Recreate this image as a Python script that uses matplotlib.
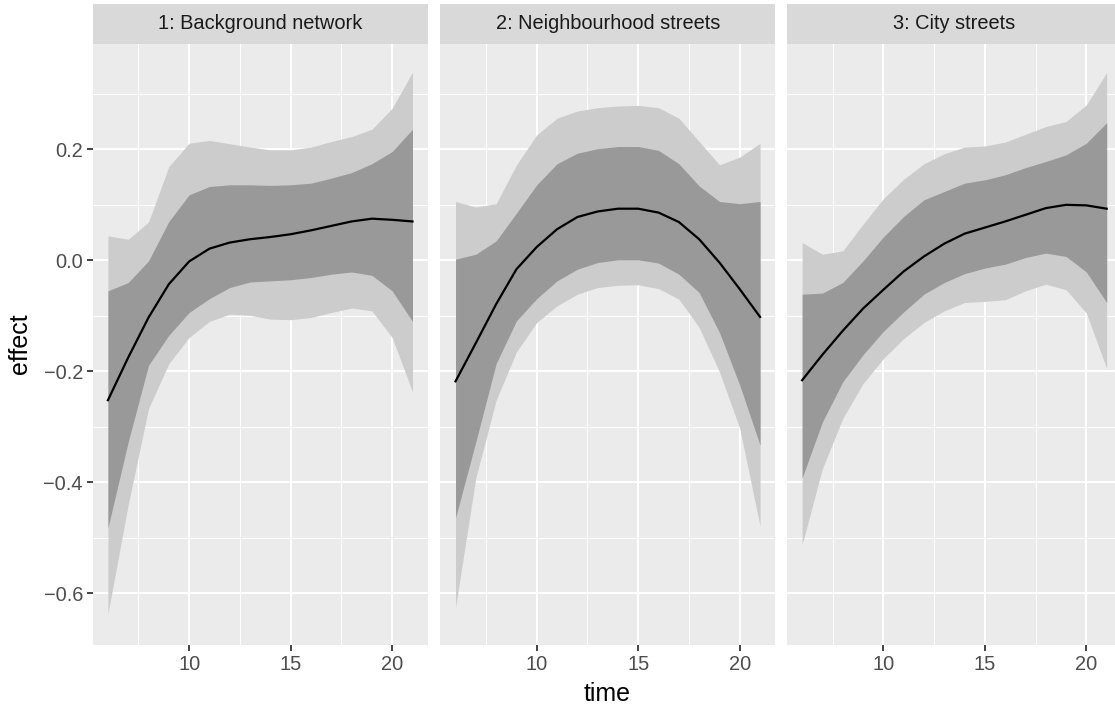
import matplotlib
matplotlib.use('Agg')
import matplotlib.pyplot as plt

plt.rcParams['font.family'] = ['Liberation Sans', 'DejaVu Sans']

# data
time = [6, 7, 8, 9, 10, 11, 12, 13, 14, 15, 16, 17, 18, 19, 20, 21]
panel_titles = ['1: Background network', '2: Neighbourhood streets', '3: City streets']

bg_hi95 = [0.044, 0.038, 0.069, 0.169, 0.211, 0.216, 0.210, 0.204, 0.199, 0.199, 0.204, 0.214, 0.223, 0.236, 0.274, 0.339]
bg_hi = [-0.055, -0.040, -0.001, 0.070, 0.118, 0.133, 0.136, 0.136, 0.135, 0.136, 0.139, 0.148, 0.158, 0.174, 0.196, 0.236]
bg_fit = [-0.252, -0.175, -0.103, -0.043, -0.002, 0.021, 0.032, 0.038, 0.042, 0.047, 0.054, 0.062, 0.070, 0.075, 0.073, 0.070]
bg_lo = [-0.482, -0.327, -0.189, -0.135, -0.094, -0.069, -0.049, -0.039, -0.037, -0.035, -0.031, -0.025, -0.021, -0.027, -0.055, -0.110]
bg_lo95 = [-0.637, -0.440, -0.267, -0.186, -0.139, -0.110, -0.097, -0.099, -0.106, -0.107, -0.103, -0.094, -0.086, -0.091, -0.139, -0.237]

nb_hi95 = [0.106, 0.096, 0.102, 0.172, 0.226, 0.256, 0.269, 0.275, 0.278, 0.279, 0.275, 0.256, 0.214, 0.172, 0.186, 0.211]
nb_hi = [0.002, 0.011, 0.035, 0.085, 0.136, 0.174, 0.193, 0.201, 0.205, 0.205, 0.198, 0.174, 0.134, 0.106, 0.102, 0.106]
nb_fit = [-0.218, -0.149, -0.079, -0.016, 0.024, 0.056, 0.078, 0.088, 0.093, 0.093, 0.086, 0.069, 0.038, -0.004, -0.052, -0.102]
nb_lo = [-0.464, -0.327, -0.186, -0.109, -0.069, -0.037, -0.016, -0.004, 0.001, 0.001, -0.005, -0.025, -0.058, -0.130, -0.225, -0.333]
nb_lo95 = [-0.625, -0.392, -0.252, -0.165, -0.112, -0.082, -0.061, -0.049, -0.045, -0.044, -0.051, -0.070, -0.121, -0.201, -0.303, -0.479]

cs_hi95 = [0.032, 0.011, 0.017, 0.065, 0.111, 0.146, 0.174, 0.192, 0.204, 0.206, 0.213, 0.227, 0.241, 0.250, 0.280, 0.338]
cs_hi = [-0.061, -0.059, -0.040, -0.001, 0.042, 0.079, 0.109, 0.124, 0.139, 0.145, 0.154, 0.167, 0.178, 0.190, 0.211, 0.248]
cs_fit = [-0.216, -0.170, -0.127, -0.087, -0.053, -0.020, 0.007, 0.030, 0.048, 0.059, 0.070, 0.082, 0.094, 0.100, 0.099, 0.093]
cs_lo = [-0.392, -0.291, -0.219, -0.170, -0.128, -0.093, -0.061, -0.040, -0.024, -0.014, -0.007, 0.005, 0.013, 0.007, -0.021, -0.076]
cs_lo95 = [-0.512, -0.375, -0.285, -0.222, -0.177, -0.141, -0.112, -0.091, -0.076, -0.074, -0.071, -0.055, -0.043, -0.053, -0.095, -0.195]

x_ticks = [10, 15, 20]
x_minor = [7.5, 12.5, 17.5]
y_ticks = [-0.6, -0.4, -0.2, 0.0, 0.2]
y_labels = ['\u22120.6', '\u22120.4', '\u22120.2', '0.0', '0.2']
y_minor = [-0.5, -0.3, -0.1, 0.1, 0.3]

panels = [
    (bg_lo95, bg_lo, bg_fit, bg_hi, bg_hi95),
    (nb_lo95, nb_lo, nb_fit, nb_hi, nb_hi95),
    (cs_lo95, cs_lo, cs_fit, cs_hi, cs_hi95),
]

W, H = 1115, 708
fig = plt.figure(figsize=(W / 100, H / 100), dpi=100)
fig.patch.set_facecolor('white')

lefts = [92.7, 440.3, 786.9]
pw = 335
p_bottom = (H - 645) / H
p_height = (645 - 43.5) / H
s_height = (43.5 - 4) / H
fs = 14.4

for i, (lo95, lo, fit, hi, hi95) in enumerate(panels):
    ax = fig.add_axes([lefts[i] / W, p_bottom, pw / W, p_height])
    ax.set_facecolor('#EBEBEB')
    for s in ax.spines.values():
        s.set_visible(False)

    # grid
    for xv in x_ticks:
        ax.axvline(xv, color='white', lw=1.5, zorder=0.5)
    for xv in x_minor:
        ax.axvline(xv, color='white', lw=0.75, zorder=0.5)
    for yv in y_ticks:
        ax.axhline(yv, color='white', lw=1.5, zorder=0.5)
    for yv in y_minor:
        ax.axhline(yv, color='white', lw=0.75, zorder=0.5)

    ax.fill_between(time, lo95, hi95, color='#CCCCCC', lw=0, zorder=1)
    ax.fill_between(time, lo, hi, color='#999999', lw=0, zorder=2)
    ax.plot(time, fit, color='black', lw=1.6, zorder=3)

    ax.set_xlim(5.25, 21.75)
    ax.set_ylim(-0.693, 0.3906)
    ax.set_xticks(x_ticks)
    ax.set_xticklabels([str(v) for v in x_ticks])
    ax.set_yticks(y_ticks)
    if i == 0:
        ax.set_yticklabels(y_labels)
        ax.tick_params(axis='y', length=4, width=1.3, color='#333333',
                       labelsize=fs, labelcolor='#4D4D4D', pad=3)
    else:
        ax.tick_params(axis='y', left=False, labelleft=False)
    ax.tick_params(axis='x', length=4, width=1.3, color='#333333',
                   labelsize=fs, labelcolor='#4D4D4D', pad=3)

    # facet strip
    sax = fig.add_axes([lefts[i] / W, p_bottom + p_height, pw / W, s_height])
    sax.set_facecolor('#D9D9D9')
    sax.set_xticks([])
    sax.set_yticks([])
    for s in sax.spines.values():
        s.set_visible(False)
    sax.text(0.5, 0.5, panel_titles[i], ha='center', va='center',
             fontsize=fs, color='#1A1A1A', transform=sax.transAxes)

fig.text(607 / W, 1 - 694 / H, 'time', ha='center', va='center', fontsize=18, color='black')
fig.text(20 / W, 1 - 344 / H, 'effect', ha='center', va='center', rotation=90,
         fontsize=18, color='black')

fig.savefig('out.png', dpi=100)
